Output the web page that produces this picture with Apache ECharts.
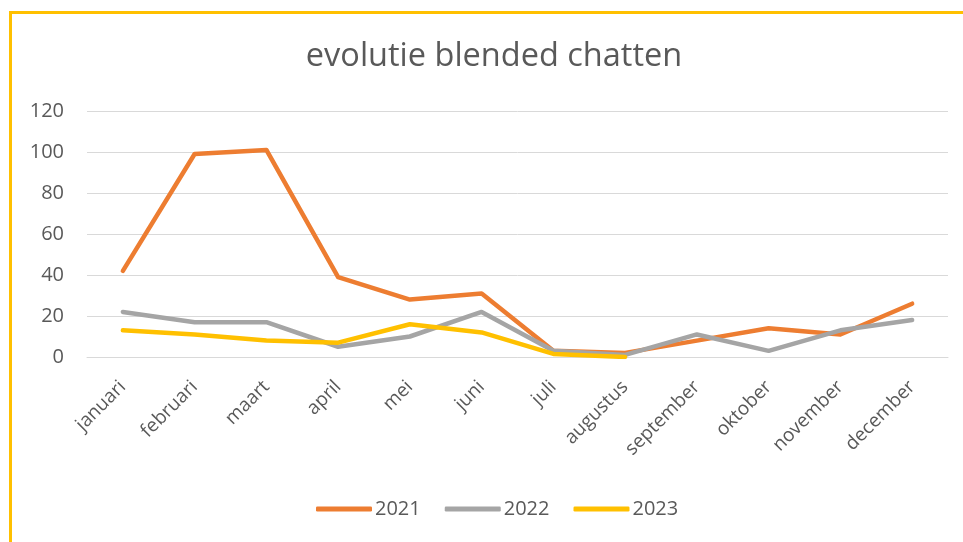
<!DOCTYPE html>
<html>
<head>
<meta charset="utf-8">
<script src="https://cdn.jsdelivr.net/npm/echarts@6/dist/echarts.min.js"></script>
<style>
html,body{margin:0;padding:0;background:#fff;}
#chart{width:963px;height:542px;}
</style>
</head>
<body>
<div id="chart"></div>
<script>
const categories = ['januari','februari','maart','april','mei','juni','juli','augustus','september','oktober','november','december'];
const values2021 = [42, 99, 101, 39, 28, 31, 3, 2, 8, 14, 11, 26];
const values2022 = [22, 17, 17, 5, 10, 22, 3, 1, 11, 3, 13, 18];
const values2023 = [13, 11, 8, 7, 16, 12, 1.5, 0];
const yTicks = {min: 0, max: 120, interval: 20};
const seriesNames = ['2021', '2022', '2023'];
const colors = ['#ED7D31', '#A5A5A5', '#FFC000'];

const font = 'Open Sans';
const chart = echarts.init(document.getElementById('chart'), null, {renderer: 'canvas'});
const mkSeries = (name, data, color) => ({
  name, type: 'line', data, showSymbol: false, symbol: 'none',
  lineStyle: {color, width: 4.5, cap: 'round', join: 'round'},
  itemStyle: {color}, animation: false
});
chart.setOption({
  animation: false,
  color: colors,
  title: {
    text: 'evolutie blended chatten',
    left: 489, top: 35, textAlign: 'center',
    textStyle: {fontFamily: font, fontSize: 32.5, fontWeight: 'normal', color: '#595959'}
  },
  legend: {
    bottom: 18, left: 311,
    itemWidth: 56, itemHeight: 5, itemGap: 24,
    icon: 'roundRect',
    textStyle: {fontFamily: font, fontSize: 20, color: '#595959', padding: [0,0,0,-2]},
    data: seriesNames
  },
  grid: {left: 87, right: 15, top: 111, bottom: 185, containLabel: false, outerBoundsMode: 'none'},
  xAxis: {
    type: 'category', data: categories, boundaryGap: true,
    axisLine: {lineStyle: {color: '#D9D9D9', width: 1}},
    axisTick: {show: false},
    axisLabel: {rotate: 45, margin: 27, fontFamily: font, fontSize: 19, color: '#595959', interval: 0}
  },
  yAxis: {
    type: 'value', min: yTicks.min, max: yTicks.max, interval: yTicks.interval,
    axisLine: {show: false}, axisTick: {show: false},
    splitLine: {lineStyle: {color: '#D9D9D9', width: 1}},
    axisLabel: {margin: 23, fontFamily: font, fontSize: 20, color: '#595959'}
  },
  graphic: [
    {type: 'line', shape: {x1: 9, y1: 12.5, x2: 963, y2: 12.5}, style: {stroke: '#FFC000', lineWidth: 3}},
    {type: 'line', shape: {x1: 10.5, y1: 11, x2: 10.5, y2: 542}, style: {stroke: '#FFC000', lineWidth: 3}}
  ],
  series: [
    mkSeries(seriesNames[0], values2021, colors[0]),
    mkSeries(seriesNames[1], values2022, colors[1]),
    mkSeries(seriesNames[2], values2023, colors[2])
  ]
});
</script>
</body>
</html>
